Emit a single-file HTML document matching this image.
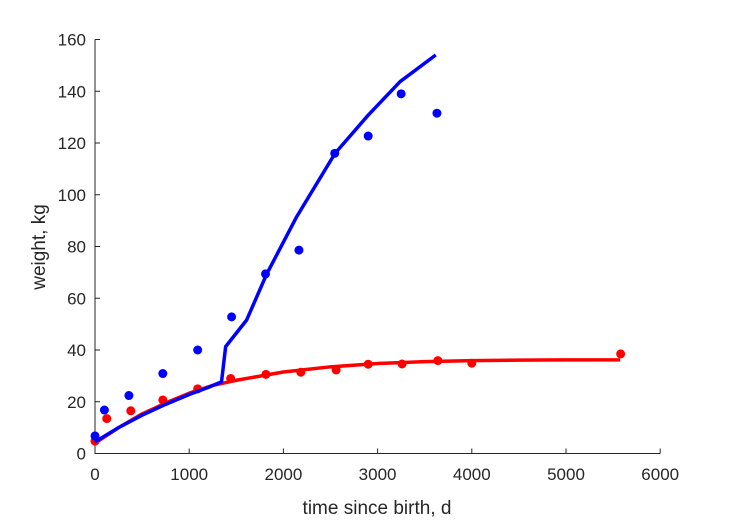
<!DOCTYPE html>
<html><head><meta charset="utf-8"><style>
body{margin:0;background:#fff}
svg text{font-family:"Liberation Sans",Arial,sans-serif;fill:#262626}
</style></head><body>
<svg id="chart" width="729" height="521" viewBox="0 0 729 521" xmlns="http://www.w3.org/2000/svg">
<rect width="729" height="521" fill="#fff"/>
<g id="axes"></g>
<g id="series"></g>
<text x="377" y="514" text-anchor="middle" font-size="19">time since birth, d</text>
<text transform="translate(45,247) rotate(-90)" text-anchor="middle" font-size="19">weight, kg</text>
</svg>
<script>
const xTicks=[0,1000,2000,3000,4000,5000,6000];
const yTicks=[0,20,40,60,80,100,120,140,160];
const blueT=[0,100,360,720,1090,1450,1810,2165,2545,2900,3250,3630];
const blueW=[6.8,16.8,22.4,30.9,40,52.8,69.4,78.6,116,122.7,139,131.5];
const redT=[0,125,380,720,1090,1440,1815,2185,2560,2900,3260,3640,4000,5580];
const redW=[4.8,13.5,16.5,20.7,25,29,30.6,31.4,32.3,34.5,34.6,35.9,34.9,38.5];
const blueFitT=[0,250,500,750,1000,1200,1343,1387,1610,1822,2141,2548,2901,3238,3617];
const blueFitW=[4.5,10,14.8,19,22.8,25.5,27.7,41.3,51.6,69.3,91.5,116,130.8,143.7,154];
const redFitT=[0,250,500,750,1000,1250,1500,2000,2500,3000,3500,4000,4500,5000,5575];
const redFitW=[4,10,15.3,19.5,23.3,26.3,28.3,31.5,33.5,34.8,35.5,35.9,36.1,36.2,36.2];
const X=t=>95+t*0.0942;
const Y=w=>453.5-w*2.5875;
const NS="http://www.w3.org/2000/svg";
const axes=document.getElementById('axes'),ser=document.getElementById('series');
function mk(tag,attrs,parent){const e=document.createElementNS(NS,tag);for(const k in attrs)e.setAttribute(k,attrs[k]);parent.appendChild(e);return e;}
let a=mk('path',{d:`M${X(0)},${Y(160)}V${Y(0)}H${X(6000)}`,stroke:'#262626','stroke-width':1,fill:'none'},axes);


xTicks.forEach(t=>{
 let l=mk('line',{x1:X(t),x2:X(t),y1:Y(0),y2:Y(0)-5,stroke:'#262626'},axes);
 
 
 let tx=mk('text',{x:X(t),y:480,'text-anchor':'middle','font-size':17},axes);tx.textContent=t;
 
 
});
yTicks.forEach(w=>{
 let l=mk('line',{x1:X(0),x2:X(0)+5,y1:Y(w),y2:Y(w),stroke:'#262626'},axes);
 
 
 let tx=mk('text',{x:86,y:Y(w)+6,'text-anchor':'end','font-size':17},axes);tx.textContent=w;
 
 
});
function line(T,W,c,name){
 let p=mk('polyline',{points:T.map((t,i)=>X(t)+','+Y(W[i])).join(' '),fill:'none',stroke:c,'stroke-width':3.5,'stroke-linejoin':'round'},ser);
 
 
}
function dots(T,W,c,name){
 T.forEach((t,i)=>{let d=mk('circle',{cx:X(t),cy:Y(W[i]),r:4.5,fill:c},ser);
 
 });
}
line(redFitT,redFitW,'#ff0000','red-fit-line');
dots(redT,redW,'#ff0000','red-data-point');
line(blueFitT,blueFitW,'#0000ff','blue-fit-line');
dots(blueT,blueW,'#0000ff','blue-data-point');
</script>
</body></html>
